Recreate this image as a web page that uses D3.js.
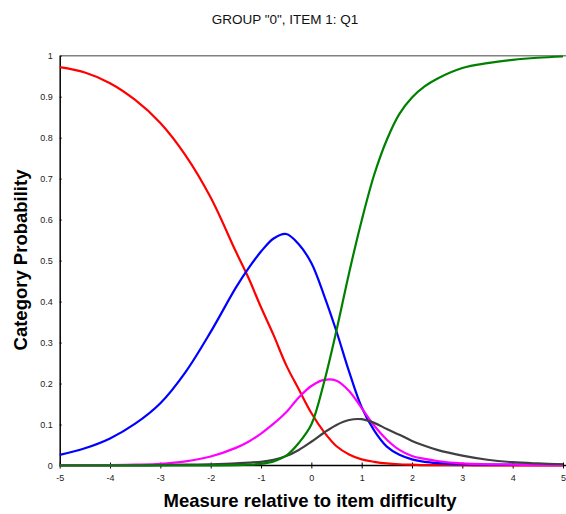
<!DOCTYPE html>
<html>
<head>
<meta charset="utf-8">
<script src="https://cdn.jsdelivr.net/npm/d3@7"></script>
<style>
  body { margin: 0; background: #fff; }
  text { font-family: "Liberation Sans", Arial, sans-serif; }
</style>
</head>
<body>
<div id="chart"></div>
<script>
// measure relative to item difficulty (shared x for every category)
var measures = [-5, -4.5, -4, -3.5, -3, -2.5, -2, -1.5, -1.25, -1, -0.75, -0.5, -0.25, 0,
  0.25, 0.5, 0.75, 1, 1.25, 1.5, 1.75, 2, 2.25, 2.5, 3, 3.5, 4, 4.5, 5];

// category probabilities
var cat0 = [0.972, 0.959, 0.933, 0.892, 0.836, 0.757, 0.654, 0.522, 0.458, 0.386, 0.318, 0.245, 0.186, 0.128,
  0.082, 0.047, 0.027, 0.015, 0.009, 0.005, 0.003, 0.002, 0.001, 0.001, 0.001, 0, 0, 0, 0];
var cat1 = [0.026, 0.042, 0.066, 0.102, 0.152, 0.228, 0.326, 0.434, 0.481, 0.522, 0.554, 0.565, 0.54, 0.494,
  0.416, 0.327, 0.229, 0.142, 0.085, 0.046, 0.026, 0.015, 0.009, 0.006, 0.003, 0.002, 0.002, 0.002, 0.002];
var cat2 = [0.001, 0.001, 0.001, 0.002, 0.004, 0.01, 0.022, 0.043, 0.058, 0.078, 0.102, 0.13, 0.166, 0.194,
  0.209, 0.207, 0.182, 0.14, 0.097, 0.063, 0.038, 0.023, 0.016, 0.011, 0.005, 0.003, 0.002, 0.001, 0.001];
var cat3 = [0, 0, 0, 0, 0.001, 0.002, 0.003, 0.005, 0.007, 0.009, 0.014, 0.023, 0.038, 0.058,
  0.08, 0.099, 0.111, 0.113, 0.104, 0.089, 0.075, 0.06, 0.048, 0.038, 0.024, 0.014, 0.008, 0.005, 0.003];
var cat4 = [0, 0, 0, 0, 0, 0, 0, 0.001, 0.002, 0.004, 0.01, 0.024, 0.055, 0.1,
  0.202, 0.33, 0.47, 0.598, 0.71, 0.795, 0.858, 0.898, 0.925, 0.944, 0.97, 0.982, 0.99, 0.995, 0.998];

var seriesNames = ["0", "1", "2", "3", "4"];
var seriesColors = ["#ff0000", "#0000ff", "#ff00ff", "#404040", "#008000"];
var xTicks = [-5, -4, -3, -2, -1, 0, 1, 2, 3, 4, 5];
var yTicks = [0, 0.1, 0.2, 0.3, 0.4, 0.5, 0.6, 0.7, 0.8, 0.9, 1];

(function (d3) {
  "use strict";

  var opt = {
    width: 566, height: 514,
    plot: {left: 59.7, right: 563, top: 55.7, bottom: 465.5}
  };
  var p = opt.plot;

  var svg = d3.select("#chart").append("svg")
    .attr("width", opt.width)
    .attr("height", opt.height);

  var x = d3.scaleLinear().domain([-5, 5]).range([p.left, p.right]);
  var y = d3.scaleLinear().domain([0, 1]).range([p.bottom, p.top]);

  // plain hyphen minus like the original, not the unicode one
  var fmt = function(d) { return String(d); };

  // title
  svg.append("text")
    .attr("x", 285).attr("y", 24)
    .attr("text-anchor", "middle")
    .style("font-size", "13.5px")
    .style("fill", "#111")
    .text('GROUP "0", ITEM 1: Q1');

  // top frame line
  svg.append("line")
    .attr("x1", p.left).attr("x2", opt.width)
    .attr("y1", p.top).attr("y2", p.top)
    .style("stroke", "#808080")
    .style("stroke-width", 1.5);

  // x axis
  var xAxis = svg.append("g")
    .attr("transform", "translate(0," + p.bottom + ")")
    .call(d3.axisBottom(x).tickValues(xTicks).tickFormat(fmt).tickSize(3).tickSizeOuter(0));
  xAxis.select(".domain").attr("d", "M" + p.left + ",0H" + opt.width);
  xAxis.selectAll(".tick line").attr("y1", -3);
  xAxis.selectAll("text").attr("y", 9).style("font-size", "9px").style("fill", "#222");

  // y axis
  var yAxis = svg.append("g")
    .attr("transform", "translate(" + p.left + ",0)")
    .call(d3.axisLeft(y).tickValues(yTicks).tickFormat(fmt).tickSize(4.5).tickSizeOuter(0));
  yAxis.selectAll(".tick line").attr("x2", 2);
  yAxis.selectAll("text").attr("x", -7).style("font-size", "9px").style("fill", "#222");
  svg.selectAll(".domain").style("stroke-width", 1.5);

  // curves
  var line = d3.line()
    .x(function(d) { return x(d[0]); })
    .y(function(d) { return y(d[1]); })
    .curve(d3.curveCatmullRom.alpha(0.5));

  [cat0, cat1, cat2, cat3, cat4].forEach(function(vals, i) {
    svg.append("path")
      .datum(measures.map(function(m, j) { return [m, vals[j]]; }))
      .attr("class", "cat cat" + seriesNames[i])
      .attr("d", line)
      .style("fill", "none")
      .style("stroke", seriesColors[i])
      .style("stroke-width", 2.2);
  });

  // axis titles
  svg.append("text")
    .attr("x", 310).attr("y", 507)
    .attr("text-anchor", "middle")
    .style("font-size", "18.5px")
    .style("font-weight", "bold")
    .text("Measure relative to item difficulty");

  svg.append("text")
    .attr("transform", "translate(27,260) rotate(-90)")
    .attr("text-anchor", "middle")
    .style("font-size", "18.5px")
    .style("font-weight", "bold")
    .text("Category  Probability");
}(d3));
</script>
</body>
</html>
